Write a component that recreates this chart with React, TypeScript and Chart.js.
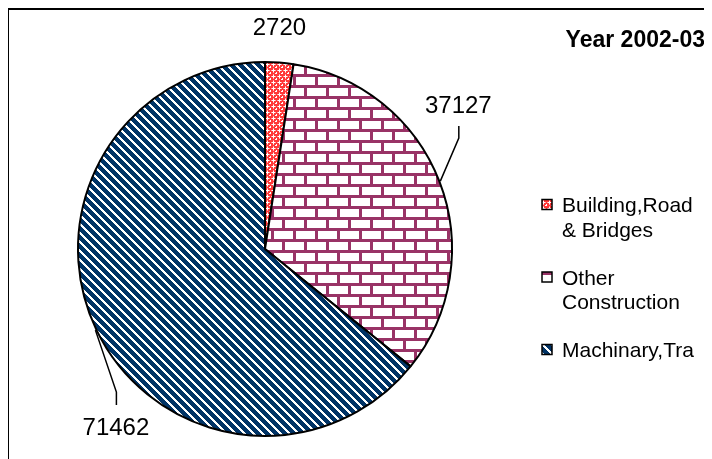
import React, { useEffect, useRef } from "react";
import { Chart, registerables } from "chart.js";

Chart.register(...registerables);

// ---- data ----
const categories = ["Building,Road & Bridges", "Other Construction", "Machinary,Tra"];
const legendLines = [["Building,Road", "& Bridges"], ["Other", "Construction"], ["Machinary,Tra"]];
const values = [2720, 37127, 71462];
const chartTitle = "Year 2002-03";

const FONT = "'Liberation Sans', Arial, sans-serif";
const W = 705;
const H = 451;

function makePattern(kind: string): CanvasPattern | string {
  const c = document.createElement("canvas");
  const g = c.getContext("2d");
  if (!g) return "#888";
  if (kind === "confetti") {
    c.width = 6;
    c.height = 6;
    g.fillStyle = "#ff3838";
    g.fillRect(0, 0, 6, 6);
    g.fillStyle = "#ffffff";
    g.fillRect(1, 2, 3, 1);
    g.fillRect(2, 1, 1, 3);
    g.fillRect(4, 5, 2, 1);
    g.fillRect(5, 4, 1, 2);
    g.fillStyle = "#ffa8a8";
    g.fillRect(0, 2, 1, 1);
    g.fillRect(2, 0, 1, 1);
    g.fillRect(4, 2, 1, 1);
    g.fillRect(2, 4, 1, 1);
  } else if (kind === "brick") {
    c.width = 22;
    c.height = 22;
    g.fillStyle = "#ffffff";
    g.fillRect(0, 0, 22, 22);
    g.fillStyle = "#993366";
    g.fillRect(0, 0, 22, 3);
    g.fillRect(0, 11, 22, 3);
    g.fillRect(0, 3, 3, 8);
    g.fillRect(11, 14, 3, 8);
  } else {
    const P = 9;
    c.width = P;
    c.height = P;
    g.fillStyle = "#003366";
    g.fillRect(0, 0, P, P);
    g.fillStyle = "#ffffff";
    for (let y = 0; y < P; y++) {
      for (let x = 0; x < P; x++) {
        const d = (((x - y) % P) + P) % P;
        if (d < 3) g.fillRect(x, y, 1, 1);
      }
    }
  }
  return g.createPattern(c, "repeat") || "#888";
}

// label leader geometry relative to the slice's outer edge point (styling)
const leaderStyles = [
  { elbow: null as null | number[], end: null as null | number[], text: [0, -27] },
  { elbow: [18.5, -43], end: [18.5, -55], text: [18, -68] },
  { elbow: [21, 62], end: [21, 75], text: [20.5, 105] },
];

export default function App() {
  const ref = useRef<HTMLCanvasElement>(null);

  useEffect(() => {
    if (!ref.current) return;
    const patterns = [makePattern("confetti"), makePattern("brick"), makePattern("stripes")];

    const overlay = {
      id: "overlay",
      afterDraw(chart: any) {
        const ctx = chart.ctx as CanvasRenderingContext2D;
        ctx.save();
        // frame
        ctx.fillStyle = "#000";
        ctx.fillRect(0, 0, 2, H);
        ctx.fillRect(0, 0, W, 2);

        // data labels with leader lines
        const meta = chart.getDatasetMeta(0);
        ctx.font = `24px ${FONT}`;
        ctx.textAlign = "center";
        ctx.textBaseline = "alphabetic";
        meta.data.forEach((arc: any, i: number) => {
          const p = arc.getProps(["x", "y", "startAngle", "endAngle", "outerRadius"], true);
          const mid = (p.startAngle + p.endAngle) / 2;
          const r = p.outerRadius + 1;
          const ex = p.x + Math.cos(mid) * r;
          const ey = p.y + Math.sin(mid) * r;
          const st = leaderStyles[i];
          if (st.elbow && st.end) {
            ctx.strokeStyle = "#000";
            ctx.lineWidth = 1.5;
            ctx.beginPath();
            ctx.moveTo(ex, ey);
            ctx.lineTo(ex + st.elbow[0], ey + st.elbow[1]);
            ctx.lineTo(ex + st.end[0], ey + st.end[1]);
            ctx.stroke();
          }
          ctx.fillStyle = "#000";
          ctx.fillText(String(values[i]), ex + st.text[0], ey + st.text[1]);
        });

        // title
        ctx.font = `bold 23px ${FONT}`;
        ctx.textAlign = "right";
        ctx.fillStyle = "#000";
        ctx.fillText(chartTitle, 698, 39);

        // legend
        ctx.font = `21px ${FONT}`;
        ctx.textAlign = "left";
        const lineH = 24.5;
        const entryGap = 48;
        let base = 204;
        legendLines.forEach((lines, i) => {
          const boxY = base - 7.5 - 5;
          ctx.fillStyle = patterns[i] as any;
          ctx.fillRect(535, boxY, 10, 10);
          ctx.strokeStyle = "#000";
          ctx.lineWidth = 1.5;
          ctx.strokeRect(535, boxY, 10, 10);
          ctx.fillStyle = "#000";
          lines.forEach((t, j) => {
            ctx.fillText(t, 555, base + j * lineH);
          });
          base += (lines.length - 1) * lineH + entryGap;
        });
        ctx.restore();
      },
    };

    const chart = new Chart(ref.current, {
      type: "pie",
      data: {
        labels: categories,
        datasets: [
          {
            data: values,
            backgroundColor: patterns as any,
            borderColor: "#000",
            borderWidth: 2,
          },
        ],
      },
      options: {
        responsive: false,
        maintainAspectRatio: false,
        animation: false,
        events: [],
        devicePixelRatio: 1,
        layout: { padding: { left: 70, right: 259, top: 53, bottom: 22 } },
        plugins: {
          legend: { display: false },
          tooltip: { enabled: false },
          title: { display: false },
        },
      },
      plugins: [overlay],
    });
    return () => chart.destroy();
  }, []);

  return (
    <div style={{ marginLeft: -1, width: W, height: H, background: "#fff" }}>
      <canvas ref={ref} width={W} height={H} style={{ display: "block", width: W, height: H }} />
    </div>
  );
}
